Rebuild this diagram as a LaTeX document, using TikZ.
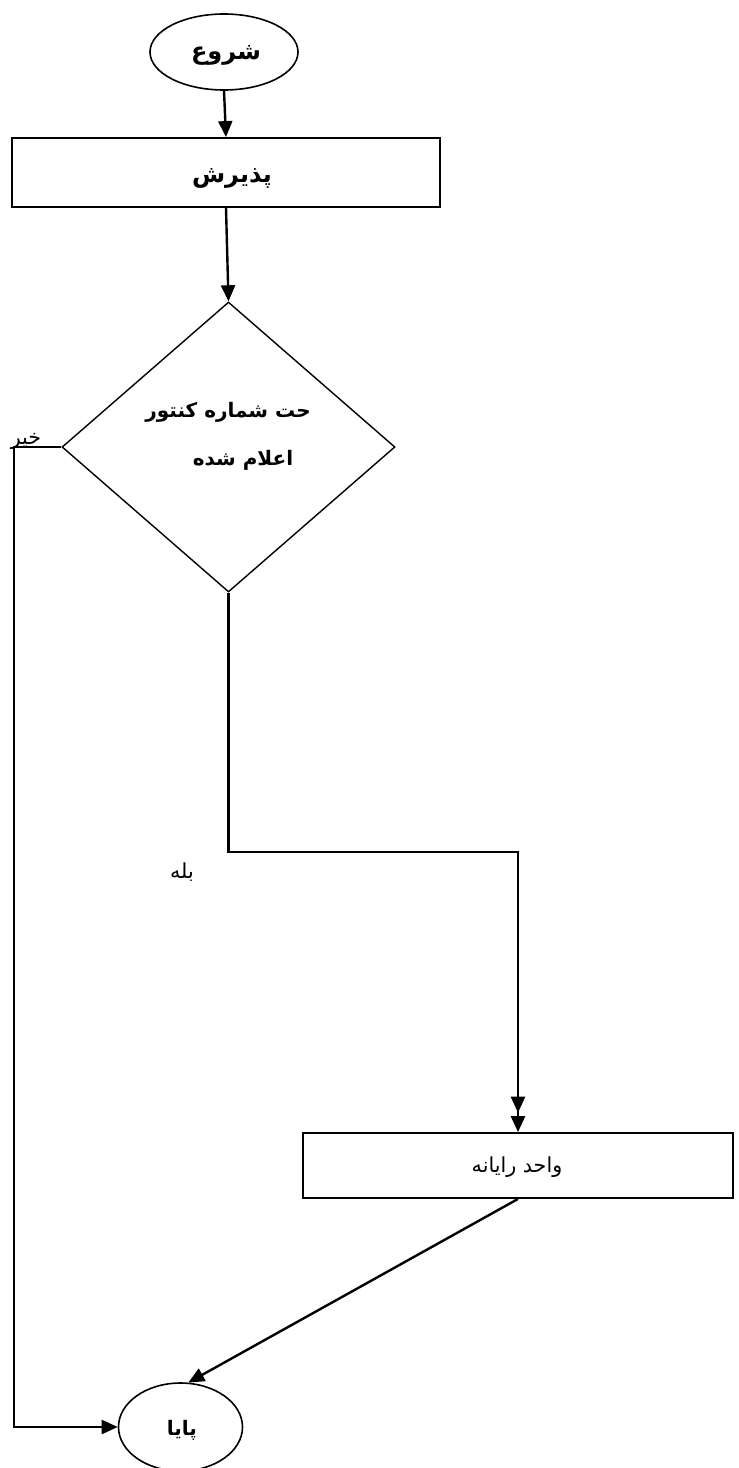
\documentclass[tikz,border=0pt]{standalone}
\usepackage{fontspec}
\newfontfamily\arabicfont[Script=Arabic]{DejaVu Sans}
\TeXXeTstate=1
\usetikzlibrary{shapes.geometric,arrows.meta}
\tikzset{
  pline/.style={line width=1.8pt},
  tip/.style={-{Triangle[length=12pt,width=10.5pt]}},
  oval/.style={draw,ellipse,line width=1.2pt,inner sep=0pt},
  pbox/.style={draw,rectangle,line width=1.4pt,inner sep=0pt},
  lbl/.style={font=\arabicfont\fontsize{15.5}{18}\selectfont,inner sep=0pt},
  blbl/.style={font=\arabicfont\bfseries\fontsize{15}{18}\selectfont,inner sep=0pt},
  bigbl/.style={font=\arabicfont\bfseries\fontsize{18}{21}\selectfont,inner sep=0pt},
}
\begin{document}
\begin{tikzpicture}[x=0.75pt,y=-0.75pt]
\useasboundingbox (0,0) rectangle (739,1468);
\node[oval,minimum width=111pt,minimum height=57pt] (start) at (224,52) {};
\node[bigbl] (starttxt) at (226,55) {\beginR شروع\endR};
\node[pbox,minimum width=321pt,minimum height=51.75pt] (recv) at (226,172.5) {};
\node[bigbl] (recvtxt) at (232,178) {\beginR پذیرش\endR};
\node[draw,diamond,line width=1.05pt,inner sep=0pt,minimum width=249.75pt,minimum height=217.5pt,aspect=1.148] (dia) at (228.5,447) {};
\node[blbl] (dia1) at (228,412) {\beginR حت شماره کنتور\endR};
\node[blbl] (dia2) at (243,460) {\beginR اعلام شده\endR};
\node[pbox,minimum width=322.5pt,minimum height=48.75pt] (comp) at (518,1165.5) {};
\node[lbl] (comptxt) at (517,1167) {\beginR واحد رایانه\endR};
\node[oval,minimum width=93pt,minimum height=66pt] (stop) at (180.5,1427) {};
\node[blbl] (stoptxt) at (182,1430) {\beginR پایا\endR};
\coordinate (noc) at (14,447);
\coordinate (yesc) at (228.5,852);
\node[lbl,anchor=south] (nolbl) at (26,450) {\beginR خیر\endR};
\node[lbl] (yeslbl) at (182,872) {\beginR بله\endR};
\draw[pline,tip] (start.south) -- (recv.north);
\draw[pline,tip] (recv.south) -- (dia.north);
\draw[pline,tip] (dia.west) -- (noc) |- (stop.west);
\draw[pline,-{Triangle[length=12pt,width=10.5pt,sep=2.5pt]Triangle[length=12pt,width=10.5pt]}] (dia.south) -- (yesc) -| (comp.north);
\draw[pline,tip] (comp.south) -- (stop.80);
\end{tikzpicture}
\end{document}
